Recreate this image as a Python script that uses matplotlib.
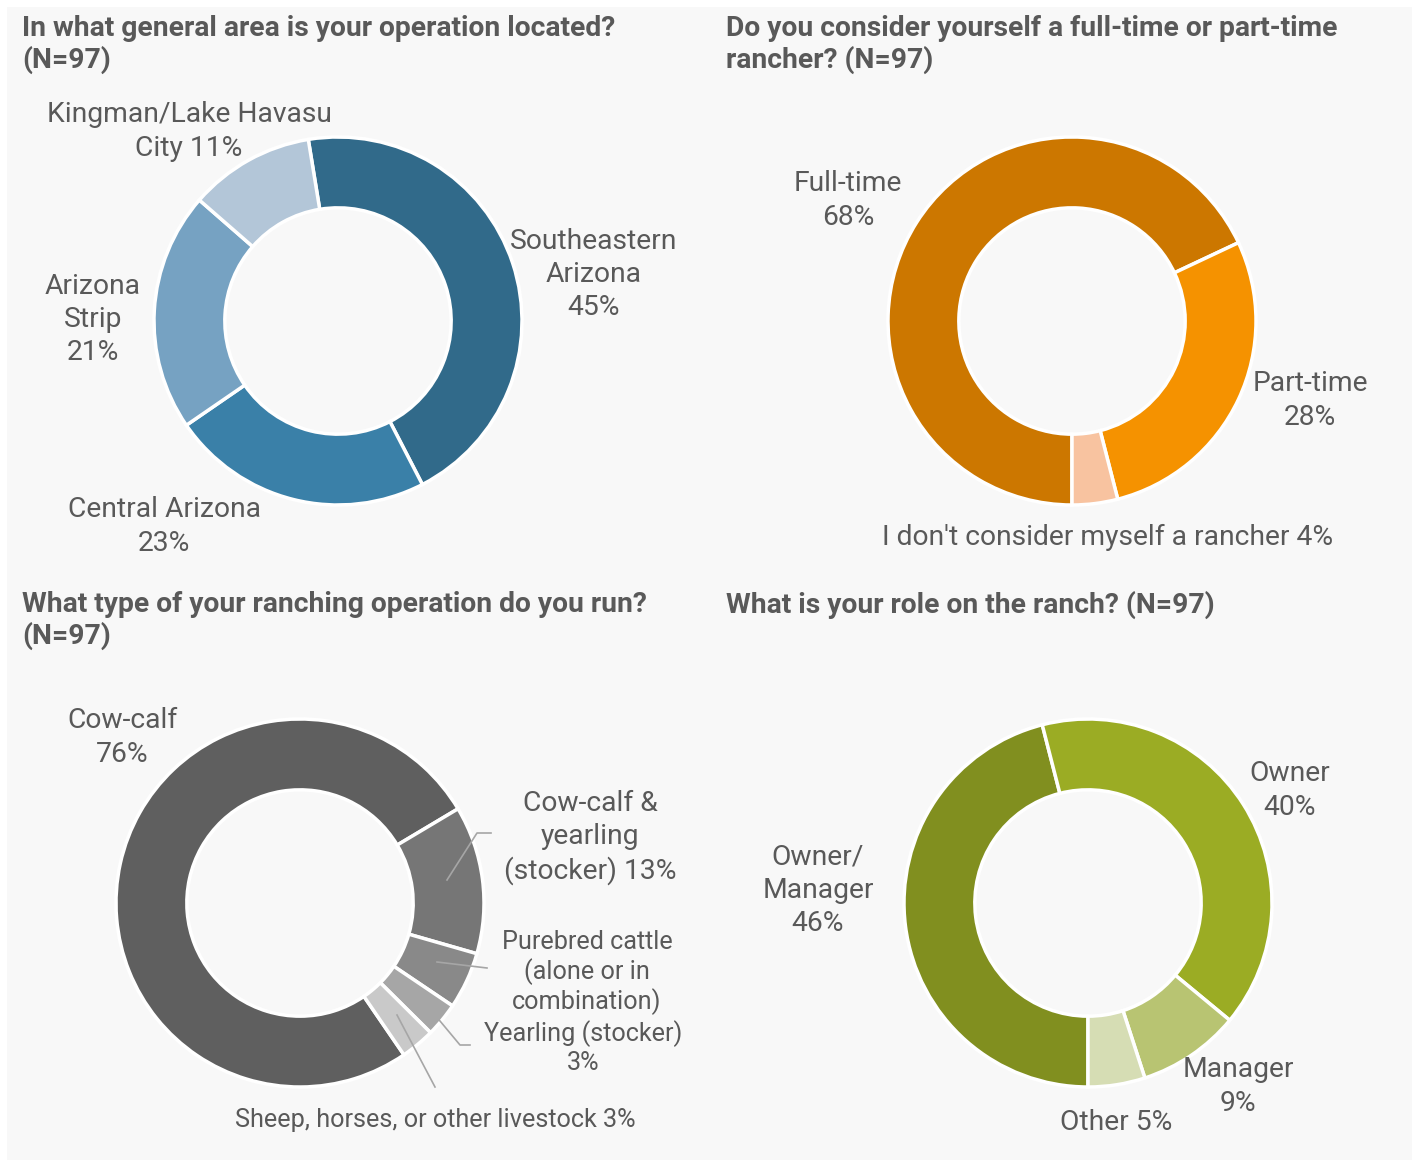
import matplotlib.pyplot as plt
from matplotlib.patches import Rectangle
from matplotlib import font_manager

W, H = 1419, 1164
DPI = 100

names = {f.name for f in font_manager.fontManager.ttflist}
FONT = ['Liberation Sans Narrow', 'DejaVu Sans'] if 'Liberation Sans Narrow' in names else ['Roboto', 'DejaVu Sans']
plt.rcParams['font.family'] = FONT

TXT = '#595959'
FS = 20.3
FS_SMALL = 18.2

# chart 1: area
area_labels = ['Southeastern\nArizona\n45%', 'Central Arizona\n23%', 'Arizona\nStrip\n21%',
               'Kingman/Lake Havasu\nCity 11%']
area_values = [45, 23, 21, 11]
area_colors = ['#316a8a', '#3a80a8', '#76a2c2', '#b3c6d8']

# chart 2: full/part time
time_labels = ['Full-time\n68%', 'Part-time\n28%', "I don't consider myself a rancher 4%"]
time_values = [68, 28, 4]
time_colors = ['#cc7700', '#f59200', '#f8c3a0']

# chart 3: operation type
op_labels = ['Cow-calf\n76%', 'Cow-calf &\nyearling\n(stocker) 13%', 'Purebred cattle\n(alone or in\ncombination)',
             'Yearling (stocker)\n3%', 'Sheep, horses, or other livestock 3%']
op_values = [76, 13, 5, 3, 3]
op_colors = ['#5f5f5f', '#767676', '#898989', '#a6a6a6', '#c9c9c9']

# chart 4: role
role_labels = ['Owner/\nManager\n46%', 'Owner\n40%', 'Manager\n9%', 'Other 5%']
role_values = [46, 40, 9, 5]
role_colors = ['#818f1f', '#9bac24', '#b8c472', '#d6ddb4']

fig = plt.figure(figsize=(W / DPI, H / DPI), dpi=DPI, facecolor='white')
fig.patches.append(Rectangle((7 / W, 1 - 1160 / H), 1405 / W, 1153 / H,
                             transform=fig.transFigure, facecolor='#f8f8f8', edgecolor='none', zorder=-10))

R = 184.0
S = 600.0


def donut(cx, cy, values, colors, start, label_pos, labels, leaders=(), sizes=None):
    ax = fig.add_axes([(cx - S / 2) / W, 1 - (cy + S / 2) / H, S / W, S / H])
    ax.set_facecolor('none')
    ax.pie(values, colors=colors, startangle=start, counterclock=False, radius=1,
           wedgeprops=dict(width=0.385, edgecolor='white', linewidth=2.5))
    L = S / 2 / R
    ax.set_xlim(-L, L)
    ax.set_ylim(-L, L)
    ax.axis('off')

    def d(p):
        return ((p[0] - cx) / R, (cy - p[1]) / R)

    for i, (lab, (px, py)) in enumerate(zip(labels, label_pos)):
        x, y = d((px, py + 2.5))
        fs = sizes[i] if sizes else FS
        ls = 1.17 if fs < FS else 1.29
        ax.text(x, y, lab, ha='center', va='center', fontsize=fs, color=TXT, linespacing=ls)
    for pts in leaders:
        xs, ys = zip(*[d(p) for p in pts])
        ax.plot(xs, ys, color='#a6a6a6', lw=1.2)
    return ax


donut(338, 321, area_values, area_colors, 99.3,
      [(594, 272), (164, 524), (93, 317), (189, 129)], area_labels)
donut(1072, 321, time_values, time_colors, -90,
      [(848, 198), (1310, 398), (1108, 535)], time_labels)
donut(300, 903, op_values, op_colors, -55.6,
      [(122, 735), (590, 835), (587, 970), (583, 1045), (435, 1117)], op_labels,
      leaders=[[(447, 880), (477, 833), (491, 833)],
               [(437, 962), (487, 968)],
               [(420, 997), (460, 1045), (470, 1045)],
               [(397, 1015), (435, 1087)]],
      sizes=[FS, FS, FS_SMALL, FS_SMALL, FS_SMALL])
donut(1088, 903, role_values, role_colors, -90,
      [(818, 888), (1290, 788), (1238, 1084), (1116, 1120)], role_labels)

titles = [(22, 15, 'In what general area is your operation located?\n(N=97)'),
          (726, 15, 'Do you consider yourself a full-time or part-time\nrancher? (N=97)'),
          (22, 591, 'What type of your ranching operation do you run?\n(N=97)'),
          (726, 591, 'What is your role on the ranch? (N=97)')]
for x, y, t in titles:
    fig.text(x / W, 1 - y / H, t, ha='left', va='top', fontsize=FS, fontweight='bold',
             color=TXT, linespacing=1.18)

fig.savefig('out.png', dpi=DPI, facecolor='white')
